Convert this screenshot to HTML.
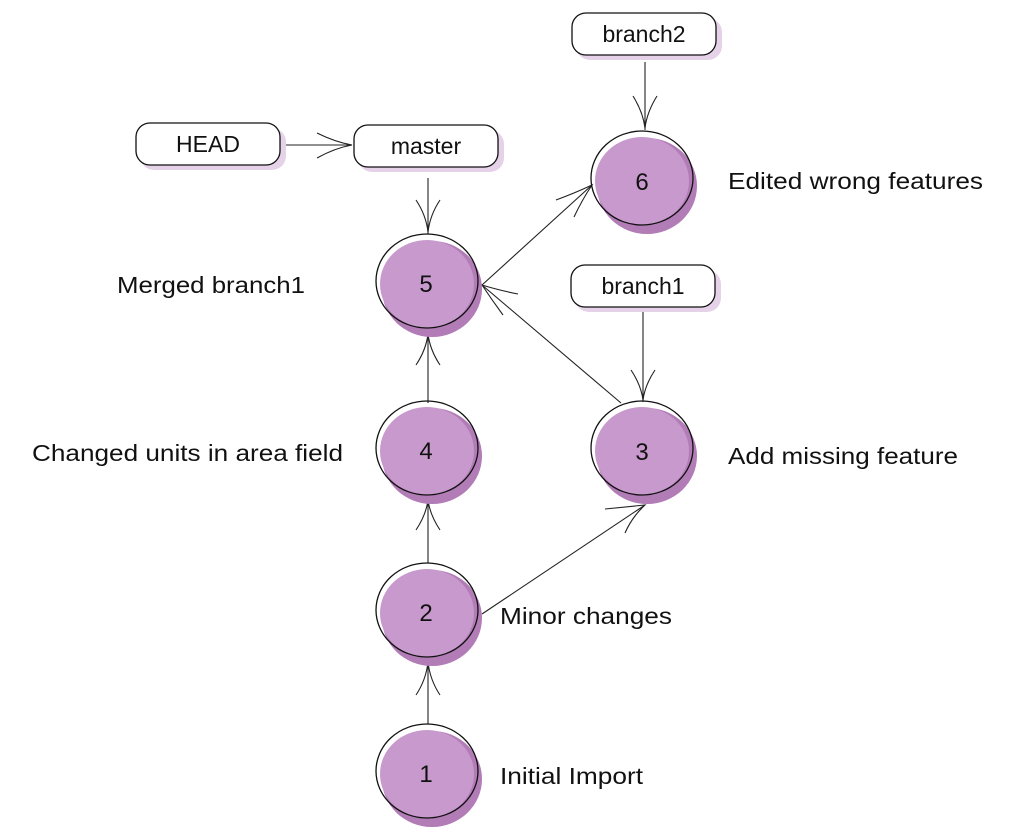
<!DOCTYPE html>
<html><head><style>
html,body{margin:0;padding:0;background:#fff;}
svg{display:block;}
text{font-family:"Liberation Sans",sans-serif;fill:#111;}
</style></head><body>
<svg width="1024" height="833" viewBox="0 0 1024 833" xmlns="http://www.w3.org/2000/svg">
<defs>
<g id="node">
  <ellipse cx="4" cy="6" rx="50" ry="48" fill="#b27cb7"/>
  <ellipse cx="-1" cy="1" rx="47" ry="44" fill="#c899cc"/>
  <ellipse cx="-1" cy="-2" rx="51" ry="47" fill="none" stroke="#111" stroke-width="1.3"/>
</g>
<g id="box">
  <rect x="4" y="5" width="146" height="42" rx="14" fill="#e6d2e8"/>
  <rect x="0" y="0" width="144" height="42" rx="14" fill="#fff" stroke="#111" stroke-width="1.3"/>
</g>
</defs>

<g stroke="#222" stroke-width="1.1" fill="none">
  <line x1="428" y1="724" x2="428" y2="660"/>
  <path d="M416 695 Q426 680 428 662 Q430 680 440 695"/>
  <line x1="428" y1="563" x2="428" y2="498"/>
  <path d="M416 530 Q426 515 428 500 Q430 515 440 530"/>
  <line x1="428" y1="403" x2="428" y2="332"/>
  <path d="M416 365 Q426 350 428 334 Q430 350 440 365"/>
  <line x1="428" y1="178" x2="428" y2="234"/>
  <path d="M416 200 Q426 215 428 232 Q430 215 440 200"/>
  <line x1="282" y1="145" x2="352" y2="145"/>
  <path d="M317 133 Q335 142 352 145 Q335 148 317 158"/>
  <line x1="645" y1="62" x2="645" y2="130"/>
  <path d="M633 96 Q643 112 645 128 Q647 112 657 96"/>
  <line x1="643" y1="312" x2="643" y2="402"/>
  <path d="M631 370 Q641 385 643 400 Q645 385 655 370"/>
  <line x1="482" y1="285" x2="592" y2="185"/>
  <path d="M556 200 Q575 193 592 185 Q582 200 574 217"/>
  <line x1="482" y1="285" x2="621" y2="403"/>
  <path d="M518 294 Q498 290 482 285 Q492 300 503 315"/>
  <line x1="482" y1="614" x2="645" y2="505"/>
  <path d="M605 509 Q625 507 645 505 Q632 517 625 533"/>
</g>

<use href="#node" x="428" y="773"/>
<use href="#node" x="428" y="612"/>
<use href="#node" x="428" y="450"/>
<use href="#node" x="428" y="283"/>
<use href="#node" x="643" y="450"/>
<use href="#node" x="643" y="180"/>

<g font-size="24" text-anchor="middle">
  <text x="426" y="782">1</text>
  <text x="426" y="621">2</text>
  <text x="426" y="459">4</text>
  <text x="426" y="292">5</text>
  <text x="642" y="460">3</text>
  <text x="642" y="190">6</text>
</g>

<use href="#box" x="136" y="123"/>
<use href="#box" x="354" y="125"/>
<use href="#box" x="572" y="13"/>
<use href="#box" x="571" y="265"/>
<g font-size="23" text-anchor="middle">
  <text x="208" y="152">HEAD</text>
  <text x="426" y="154">master</text>
  <text x="644" y="42">branch2</text>
  <text x="643" y="294">branch1</text>
</g>

<g font-size="23.5">
  <text x="117" y="293" textLength="188" lengthAdjust="spacingAndGlyphs">Merged branch1</text>
  <text x="32" y="461" textLength="311" lengthAdjust="spacingAndGlyphs">Changed units in area field</text>
  <text x="728" y="189" textLength="255" lengthAdjust="spacingAndGlyphs">Edited wrong features</text>
  <text x="728" y="464" textLength="230" lengthAdjust="spacingAndGlyphs">Add missing feature</text>
  <text x="500" y="624" textLength="172" lengthAdjust="spacingAndGlyphs">Minor changes</text>
  <text x="500" y="784" textLength="143" lengthAdjust="spacingAndGlyphs">Initial Import</text>
</g>
</svg>
</body></html>
